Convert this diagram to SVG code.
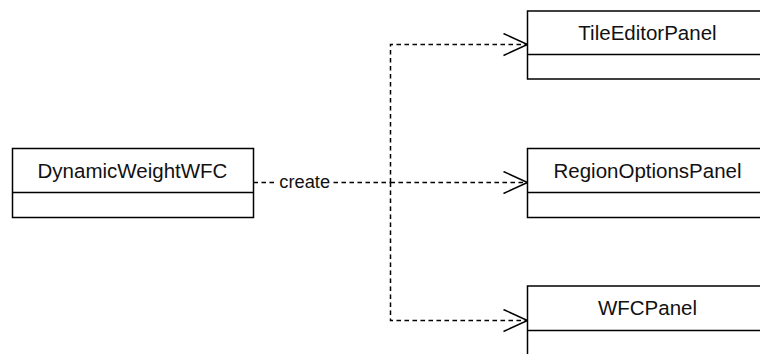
<svg xmlns="http://www.w3.org/2000/svg" width="760" height="354" viewBox="0 0 760 354">
  <style>
    .box { fill: #ffffff; stroke: #000000; stroke-width: 1.5; }
    .div { stroke: #000000; stroke-width: 1.5; fill: none; }
    .name { font-family: "Liberation Sans", Arial, sans-serif; font-size: 20.5px; fill: #111111; text-anchor: middle; }
    .edge { fill: none; stroke: #000000; stroke-width: 1.5; stroke-dasharray: 4.5 3.5; }
    .lbl { font-family: "Liberation Sans", Arial, sans-serif; font-size: 18.3px; fill: #111111; text-anchor: middle; }
  </style>
  <defs>
    <marker id="open" markerUnits="userSpaceOnUse" markerWidth="30" markerHeight="30" refX="25" refY="12" orient="auto">
      <path d="M1,1 L25,12 L1,23" fill="none" stroke="#000000" stroke-width="1.5"/>
    </marker>
  </defs>

  <g id="connectors">
    <path class="edge" d="M253.5,182.5 H390.5"/>
    <path class="edge" d="M390.5,182.5 V44.5 H527.5" marker-end="url(#open)"/>
    <path class="edge" d="M390.5,182.5 H527.5" marker-end="url(#open)"/>
    <path class="edge" d="M390.5,182.5 V320.5 H527.5" marker-end="url(#open)"/>
    <rect x="277" y="172" width="55" height="21" fill="#ffffff"/>
    <text class="lbl" x="304.7" y="187.7">create</text>
  </g>

  <g id="DynamicWeightWFC">
    <rect class="box" x="12.5" y="148.5" width="241" height="69"/>
    <line class="div" x1="12.5" y1="192.5" x2="253.5" y2="192.5"/>
    <text class="name" x="132.5" y="178">DynamicWeightWFC</text>
  </g>

  <g id="TileEditorPanel">
    <rect class="box" x="527.5" y="11" width="241" height="68"/>
    <line class="div" x1="527.5" y1="54.5" x2="768.5" y2="54.5"/>
    <text class="name" x="647.5" y="39.5">TileEditorPanel</text>
  </g>

  <g id="RegionOptionsPanel">
    <rect class="box" x="527.5" y="148.5" width="241" height="69"/>
    <line class="div" x1="527.5" y1="192.5" x2="768.5" y2="192.5"/>
    <text class="name" x="647.5" y="177.5">RegionOptionsPanel</text>
  </g>

  <g id="WFCPanel">
    <rect class="box" x="527.5" y="286" width="241" height="69"/>
    <line class="div" x1="527.5" y1="330.5" x2="768.5" y2="330.5"/>
    <text class="name" x="647.5" y="314.5">WFCPanel</text>
  </g>
</svg>
